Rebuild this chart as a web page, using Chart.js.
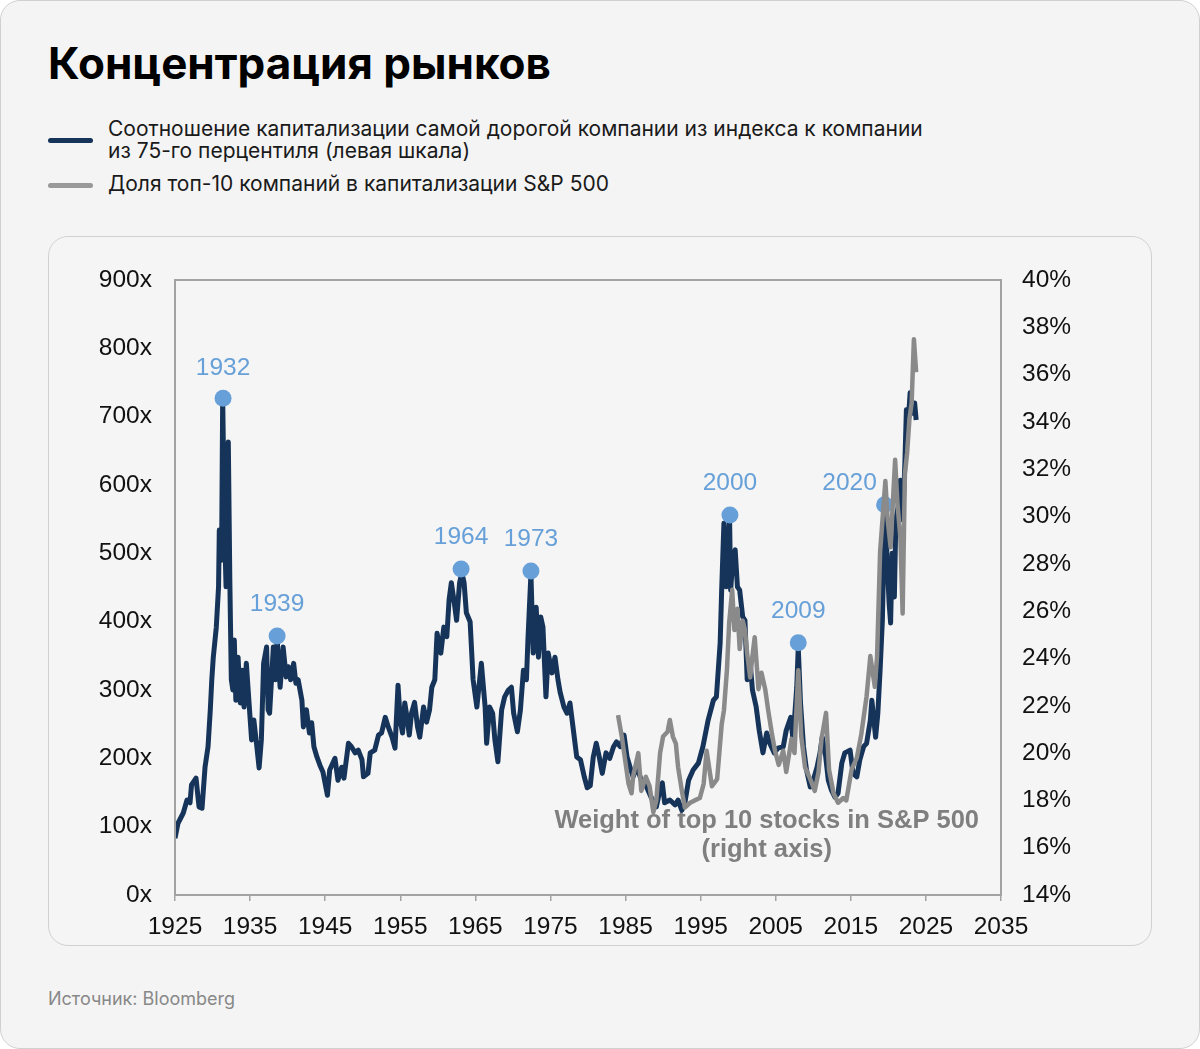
<!DOCTYPE html>
<html lang="ru">
<head>
<meta charset="utf-8">
<title>Концентрация рынков</title>
<script src="https://cdn.jsdelivr.net/npm/chart.js@4.4.1/dist/chart.umd.min.js"></script>
<style>
  html, body { margin: 0; padding: 0; background: #fff; }
  .page {
    position: relative; width: 1200px; height: 1049px; box-sizing: border-box;
    background: #f4f4f4; border: 1px solid #d0d0d0; border-radius: 20px;
    font-family: Inter, "Noto Sans", sans-serif; overflow: hidden;
  }
  h1 {
    position: absolute; left: 47px; top: 40px; margin: 0;
    font-size: 44px; line-height: 44px; font-weight: 700; color: #000;
  }
  .legend { position: absolute; left: 107px; font-size: 21px; line-height: 22px; color: #1a1a1a; }
  .swatch { position: absolute; left: 47px; width: 45px; height: 5px; border-radius: 3px; }
  .card {
    position: absolute; left: 47px; top: 235px; width: 1104px; height: 710px; box-sizing: border-box;
    border: 1px solid #d0d0d0; border-radius: 20px; background: #f5f5f5;
  }
  .chart-box { position: absolute; left: 47px; top: 235px; width: 1103px; height: 709px; }
  .source { position: absolute; left: 47px; top: 988px; font-size: 18px; line-height: 20px; color: #888; }
</style>
</head>
<body>
<div class="page">
  <h1>Концентрация рынков</h1>
  <div class="swatch" style="top:137px;background:#163459"></div>
  <div class="legend" style="top:117px">Соотношение капитализации самой дорогой компании из индекса к компании<br>из 75-го перцентиля (левая шкала)</div>
  <div class="swatch" style="top:182px;background:#999"></div>
  <div class="legend" style="top:172px">Доля топ-10 компаний в капитализации S&amp;P 500</div>
  <div class="card"></div>
  <div class="chart-box"><canvas id="chart"></canvas></div>
  <div class="source">Источник: Bloomberg</div>
</div>
<script>
// largest company / 75th percentile company, market cap ratio (left axis, x)
const ratioYears = [
  1925.0, 1925.4, 1926.1, 1926.6, 1927.0, 1927.2, 1927.8, 1928.2, 1928.6, 1929.0,
  1929.4, 1929.7, 1929.9, 1930.1, 1930.5, 1930.8, 1930.9, 1931.2, 1931.35, 1931.6,
  1931.8, 1932.1, 1932.3, 1932.5, 1932.7, 1932.9, 1933.1, 1933.4, 1933.7, 1934.0,
  1934.2, 1934.5, 1934.9, 1935.2, 1935.5, 1935.9, 1936.2, 1936.5, 1936.8, 1937.2,
  1937.4, 1937.6, 1938.1, 1938.4, 1938.6, 1939.0, 1939.4, 1939.8, 1940.1, 1940.4,
  1940.8, 1941.1, 1941.4, 1941.9, 1942.1, 1942.5, 1942.9, 1943.2, 1943.5, 1943.9,
  1944.3, 1944.7, 1945.3, 1945.6, 1946.3, 1946.7, 1947.2, 1947.5, 1948.1, 1948.5,
  1949.0, 1949.4, 1949.9, 1950.1, 1950.7, 1951.0, 1951.6, 1952.1, 1952.5, 1953.0,
  1953.4, 1953.9, 1954.3, 1954.7, 1955.0, 1955.3, 1955.6, 1955.9, 1956.2, 1956.5,
  1956.9, 1957.3, 1957.6, 1958.1, 1958.5, 1958.9, 1959.2, 1959.6, 1959.9, 1960.4,
  1960.8, 1961.2, 1961.5, 1961.8, 1962.2, 1962.5, 1962.9, 1963.2, 1963.5, 1963.8,
  1964.3, 1964.7, 1965.2, 1965.8, 1966.3, 1966.5, 1966.9, 1967.3, 1967.6, 1968.0,
  1968.5, 1968.9, 1969.4, 1969.8, 1970.1, 1970.6, 1971.0, 1971.4, 1971.8, 1972.0,
  1972.4, 1972.7, 1973.1, 1973.4, 1973.7, 1974.0, 1974.4, 1974.7, 1975.2, 1975.6,
  1976.0, 1976.3, 1976.8, 1977.2, 1977.6, 1978.0, 1978.5, 1979.0, 1979.5, 1979.9,
  1980.3, 1980.7, 1981.1, 1981.5, 1981.9, 1982.4, 1982.9, 1983.4, 1983.8, 1984.3,
  1984.8, 1985.2, 1985.6, 1986.0, 1986.5, 1987.1, 1987.8, 1988.4, 1989.1, 1989.6,
  1989.9, 1990.2, 1990.9, 1991.6, 1992.0, 1992.5, 1992.9, 1993.4, 1994.0, 1994.7,
  1995.3, 1996.0, 1996.7, 1997.1, 1997.6, 1997.8, 1998.1, 1998.4, 1998.85, 1999.0,
  1999.3, 1999.6, 1999.9, 2000.2, 2000.6, 2000.9, 2001.2, 2001.6, 2001.9, 2002.4,
  2002.8, 2003.3, 2003.8, 2004.2, 2004.8, 2005.3, 2006.0, 2006.4, 2007.0, 2007.3,
  2007.8, 2008.0, 2008.3, 2008.7, 2009.1, 2009.6, 2010.0, 2010.5, 2010.9, 2011.2,
  2011.6, 2012.0, 2012.4, 2012.9, 2013.3, 2013.8, 2014.2, 2014.9, 2015.3, 2015.8,
  2016.2, 2016.7, 2017.1, 2017.6, 2017.8, 2018.3, 2018.6, 2018.9, 2019.2, 2019.4,
  2019.6, 2019.8, 2020.1, 2020.3, 2020.5, 2020.8, 2021.0, 2021.3, 2021.6, 2021.9,
  2022.2, 2022.4, 2022.6, 2022.9, 2023.2, 2023.5, 2023.7
];
const ratioValues = [
  83, 105, 120, 139, 135, 161, 171, 129, 127, 187,
  217, 271, 315, 348, 392, 451, 534, 490, 727, 534,
  451, 663, 461, 315, 300, 373, 285, 348, 281, 329,
  275, 339, 275, 227, 256, 217, 186, 227, 339, 363,
  271, 266, 363, 315, 375, 304, 363, 319, 334, 315,
  339, 310, 315, 285, 246, 271, 237, 252, 217, 202,
  190, 180, 146, 183, 200, 168, 187, 171, 222, 217,
  208, 212, 198, 173, 178, 208, 212, 234, 237, 260,
  246, 231, 215, 307, 256, 237, 281, 260, 234, 266,
  282, 246, 231, 275, 253, 271, 304, 315, 383, 354,
  392, 378, 432, 457, 427, 402, 457, 472, 457, 413,
  400, 315, 275, 339, 275, 222, 275, 266, 227, 195,
  271, 290, 300, 304, 266, 239, 271, 329, 315, 373,
  470, 354, 421, 348, 407, 392, 290, 354, 325, 348,
  315, 296, 275, 266, 281, 246, 202, 198, 173, 157,
  160, 202, 222, 202, 178, 208, 200, 217, 224, 217,
  234, 202, 187, 173, 187, 168, 158, 143, 129, 154,
  164, 135, 139, 132, 139, 124, 135, 168, 183, 193,
  217, 256, 285, 290, 369, 446, 544, 451, 553, 446,
  495, 505, 451, 446, 407, 402, 315, 339, 300, 275,
  241, 208, 237, 222, 208, 215, 217, 241, 260, 227,
  304, 362, 281, 217, 183, 158, 168, 187, 208, 231,
  208, 168, 154, 143, 149, 193, 208, 212, 178, 173,
  198, 217, 222, 256, 285, 231, 266, 329, 402, 500,
  570, 500, 427, 398, 500, 436, 549, 568, 607, 549,
  632, 710, 685, 735, 705, 720, 695
];

// weight of top 10 stocks in S&P 500 (right axis, %)
const weightYears = [
  1984.0, 1984.5, 1984.9, 1985.4, 1985.8, 1986.0, 1986.7, 1987.1, 1987.7, 1988.2,
  1988.7, 1989.1, 1989.6, 1990.0, 1990.6, 1990.9, 1991.3, 1991.7, 1992.0, 1992.5,
  1992.9, 1993.6, 1994.2, 1994.9, 1995.4, 1995.8, 1996.5, 1997.2, 1997.8, 1998.1,
  1998.5, 1998.8, 1999.2, 1999.5, 1999.9, 2000.2, 2000.6, 2000.9, 2001.2, 2001.6,
  2001.9, 2002.2, 2002.7, 2003.1, 2003.6, 2004.0, 2004.5, 2004.9, 2005.4, 2006.0,
  2006.4, 2007.1, 2007.5, 2008.0, 2008.4, 2008.9, 2009.6, 2010.2, 2010.7, 2011.1,
  2011.7, 2012.1, 2012.7, 2013.3, 2014.0, 2014.4, 2015.1, 2015.8, 2016.4, 2017.1,
  2017.6, 2018.2, 2018.5, 2018.9, 2019.6, 2019.9, 2020.3, 2020.6, 2020.9, 2021.2,
  2021.6, 2021.9, 2022.2, 2022.5, 2022.8, 2023.1, 2023.4, 2023.7
];
const weightValues = [
  21.6, 20.7, 19.8, 18.7, 18.3, 19.0, 20.0, 18.4, 19.0, 18.6,
  17.5, 18.0, 20.0, 20.7, 20.9, 21.4, 20.7, 20.4, 19.4, 18.4,
  17.7, 17.9, 18.0, 18.1, 18.7, 20.1, 18.6, 18.9, 21.2, 21.8,
  23.5, 25.5, 26.9, 25.2, 26.1, 24.4, 25.6, 25.2, 24.2, 23.2,
  24.1, 24.9, 22.7, 23.4, 22.7, 21.8, 20.8, 20.1, 19.5, 20.1,
  19.2, 20.6, 20.0, 23.5, 20.7, 19.4, 18.9, 18.4, 19.2, 20.6,
  21.7, 19.3, 18.3, 17.9, 18.1, 18.0, 19.3, 19.8, 20.8, 22.4,
  24.1, 22.8, 24.1, 28.5, 31.5, 29.9, 28.7, 30.6, 32.4, 30.6,
  29.1, 25.9, 31.8, 32.7, 34.1, 34.8, 37.5, 36.1
];

// marked peaks of the ratio series
const peakLabels = ["1932", "1939", "1964", "1973", "2000", "2009", "2020"];
const peakYears = [1931.4, 1938.6, 1963.1, 1972.4, 1998.9, 2008.0, 2019.5];
const peakValues = [727, 379, 477, 474, 556, 369, 571];

const xTicks = [1925, 1935, 1945, 1955, 1965, 1975, 1985, 1995, 2005, 2015, 2025, 2035];

const NAVY = "#163459";
const GREY = "#8a8a8a";
const BLUE = "#67a0d8";
const AXIS = "#a3a3a3";
const tickFont = { family: "Arial, 'Liberation Sans', sans-serif", size: 24.5 };

const pairs = (xs, ys) => xs.map((x, i) => ({ x, y: ys[i] }));

const frame = {
  id: "frame",
  beforeDatasetsDraw(chart) {
    const { ctx, scales } = chart;
    ctx.save();
    // note about the grey series, sits under the lines
    ctx.fillStyle = "#7f7f7f";
    ctx.font = "bold 25.5px Arial, 'Liberation Sans', sans-serif";
    ctx.textAlign = "center";
    ctx.textBaseline = "middle";
    const cx = scales.x.getPixelForValue(2003.8);
    ctx.fillText("Weight of top 10 stocks in S&P 500", cx, scales.y1.getPixelForValue(17.15));
    ctx.fillText("(right axis)", cx, scales.y1.getPixelForValue(15.9));
    ctx.restore();
  },
  afterDraw(chart) {
    const { ctx, chartArea: a } = chart;
    ctx.save();
    ctx.strokeStyle = AXIS;
    ctx.lineWidth = 2;
    ctx.strokeRect(a.left, a.top, a.right - a.left, a.bottom - a.top);
    ctx.restore();
  }
};

const peakText = {
  id: "peakText",
  afterDatasetsDraw(chart) {
    const { ctx, scales } = chart;
    ctx.save();
    ctx.fillStyle = BLUE;
    ctx.font = "24.5px Arial, 'Liberation Sans', sans-serif";
    ctx.textAlign = "center";
    ctx.textBaseline = "middle";
    peakLabels.forEach((label, i) => {
      let x = scales.x.getPixelForValue(peakYears[i]);
      let y = scales.y.getPixelForValue(peakValues[i]) - 32;
      if (label === "2020") { x -= 35; y += 10; }
      if (label === "1932") { y += 2; }
      ctx.fillText(label, x, y);
    });
    ctx.restore();
  }
};

new Chart(document.getElementById("chart"), {
  type: "line",
  data: {
    datasets: [
      {
        label: "ratio",
        data: pairs(ratioYears, ratioValues),
        yAxisID: "y",
        borderColor: NAVY,
        borderWidth: 5,
        pointRadius: 0,
        tension: 0,
        borderJoinStyle: "round",
        order: 3
      },
      {
        label: "peaks",
        data: pairs(peakYears, peakValues),
        yAxisID: "y",
        showLine: false,
        pointRadius: 8.5,
        pointBackgroundColor: BLUE,
        pointBorderWidth: 0,
        order: 2
      },
      {
        label: "weight",
        data: pairs(weightYears, weightValues),
        yAxisID: "y1",
        borderColor: GREY,
        borderWidth: 4.5,
        pointRadius: 0,
        tension: 0,
        borderJoinStyle: "round",
        order: 1
      }
    ]
  },
  options: {
    responsive: true,
    maintainAspectRatio: false,
    animation: false,
    layout: { padding: { top: 44, left: 0, right: 0, bottom: 0 } },
    plugins: { legend: { display: false }, tooltip: { enabled: false } },
    scales: {
      x: {
        type: "linear",
        min: 1925,
        max: 2035,
        afterBuildTicks: s => { s.ticks = xTicks.map(v => ({ value: v })); },
        afterFit: s => { s.height = 50; },
        border: { display: false },
        grid: { drawOnChartArea: false, drawTicks: true, tickLength: 6, color: AXIS, lineWidth: 1.5 },
        ticks: { color: "#111", font: tickFont, padding: 12, maxRotation: 0, autoSkip: false, callback: v => String(v) }
      },
      y: {
        position: "left",
        min: 0,
        max: 900,
        afterFit: s => { s.width = 127; },
        border: { display: false },
        grid: { display: false, drawTicks: false },
        ticks: { stepSize: 100, color: "#111", font: tickFont, padding: 23, callback: v => v + "x" }
      },
      y1: {
        position: "right",
        min: 14,
        max: 40,
        afterFit: s => { s.width = 150; },
        border: { display: false },
        grid: { display: false, drawTicks: false },
        ticks: { stepSize: 2, color: "#111", font: tickFont, padding: 21, callback: v => v + "%" }
      }
    }
  },
  plugins: [frame, peakText]
});
</script>
</body>
</html>
